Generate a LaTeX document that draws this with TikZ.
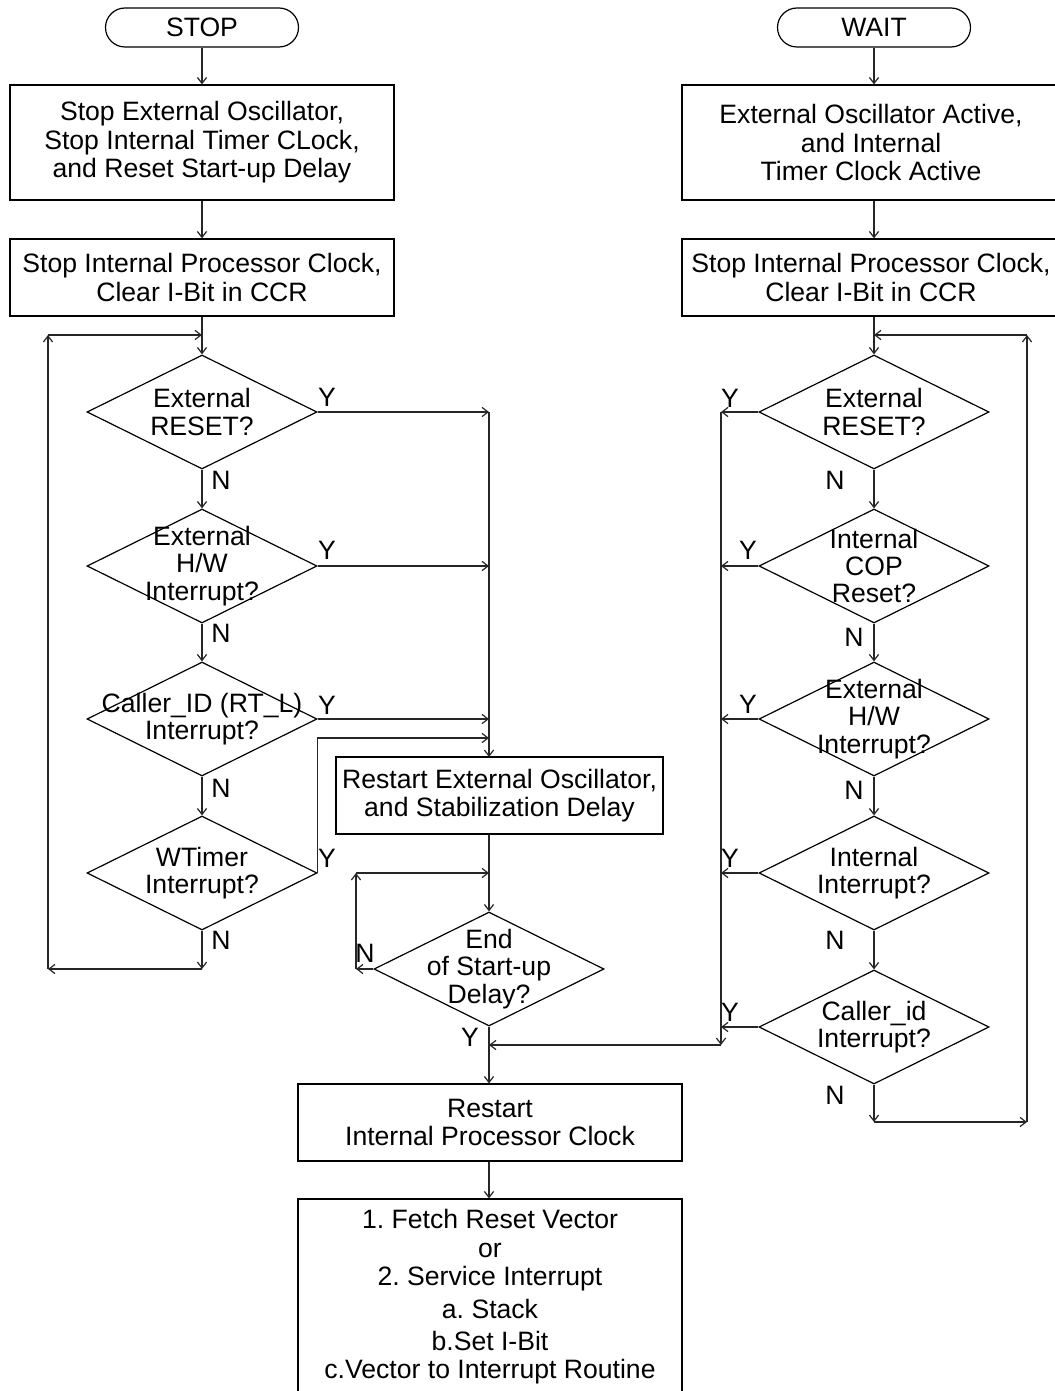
\documentclass[tikz,border=0pt]{standalone}
\usepackage{fontspec}
\setmainfont{Liberation Sans}
\usetikzlibrary{shapes.geometric, arrows.meta, positioning}
\frenchspacing
\newcommand{\flowfont}{\fontsize{13.3pt}{14.2pt}\selectfont}
\tikzset{
    flowline/.style={line width=0.6pt, draw=black!85},
    flowarrow/.style={flowline, -{Straight Barb[length=3pt,width=4.6pt]}},
    termnode/.style={rectangle, draw, line width=0.6pt, rounded corners=9.75pt, minimum width=96.5pt, minimum height=19.5pt, inner sep=0pt},
    procbox/.style={rectangle, draw, line width=0.6pt, align=center, inner sep=0pt},
    decision/.style={diamond, draw, line width=0.6pt, minimum width=115pt, minimum height=57pt, inner sep=0pt},
    qtext/.style={align=center, inner sep=0pt, font=\fontsize{13.3pt}{13.6pt}\selectfont},
    yesno/.style={inner sep=0pt}
}

\begin{document}
\begin{tikzpicture}[x=0.5pt, y=-0.5pt, every node/.style={font=\flowfont}]
    \useasboundingbox (0,0) rectangle (1054,1391);

    % STOP branch
    \node[termnode] (stop) at (202,27.5) {STOP};
    \node[procbox, minimum width=192pt, minimum height=57.5pt] (sbox1) at (202,142.5)
        {Stop External Oscillator,\\Stop Internal Timer CLock,\\and Reset Start-up Delay};
    \node[procbox, minimum width=192pt, minimum height=38.5pt] (sbox2) at (202,277.5)
        {Stop Internal Processor Clock,\\Clear I-Bit in CCR};
    \node[decision, label={[qtext, name=sd1t]center:{External\\RESET?}}] (sd1) at (202,412) {};
    \node[decision, label={[qtext, name=sd2t]center:{External\\H/W\\Interrupt?}}] (sd2) at (202,566) {};
    \node[decision, label={[qtext, name=sd3t]center:{Caller\_ID (RT\_L)\\Interrupt?}}] (sd3) at (202,719) {};
    \node[decision, label={[qtext, name=sd4t]center:{WTimer\\Interrupt?}}] (sd4) at (202,873) {};

    % WAIT branch
    \node[termnode] (wait) at (874,27.5) {WAIT};
    \node[procbox, minimum width=189pt, minimum height=57.5pt] (wbox1) at (871,142.5)
        {External Oscillator Active,\\and Internal\\Timer Clock Active};
    \node[procbox, minimum width=189pt, minimum height=38.5pt] (wbox2) at (871,277.5)
        {Stop Internal Processor Clock,\\Clear I-Bit in CCR};
    \node[decision, label={[qtext, name=wd1t]center:{External\\RESET?}}] (wd1) at (874,412) {};
    \node[decision, label={[qtext, name=wd2t]center:{Internal\\COP\\Reset?}}] (wd2) at (874,566) {};
    \node[decision, label={[qtext, name=wd3t]center:{External\\H/W\\Interrupt?}}] (wd3) at (874,719) {};
    \node[decision, label={[qtext, name=wd4t]center:{Internal\\Interrupt?}}] (wd4) at (874,873) {};
    \node[decision, label={[qtext, name=wd5t]center:{Caller\_id\\Interrupt?}}] (wd5) at (874,1027) {};

    % restart part
    \node[procbox, minimum width=163.5pt, minimum height=38.5pt] (osc) at (499.5,795.5)
        {Restart External Oscillator,\\and Stabilization Delay};
    \node[decision, label={[qtext, name=enddt]center:{End\\of Start-up\\Delay?}}] (endd) at (489,969) {};
    \node[procbox, minimum width=192pt, minimum height=38.5pt] (rclk) at (490,1122.5)
        {Restart\\Internal Processor Clock};
    \node[procbox, minimum width=192pt, minimum height=98pt] (vec) at (490,1297)
        {1. Fetch Reset Vector\\or\\2. Service Interrupt\\[2pt]a. Stack\\[2pt]b.Set I-Bit\\c.Vector to Interrupt Routine};

    % corner points
    \coordinate (sloopA) at (202,969);
    \coordinate (sloopB) at (48,969);
    \coordinate (sloopC) at (48,335);
    \coordinate (sloopD) at (202,335);
    \coordinate (trunkin) at (489,757);
    \coordinate (wtin) at (489,738);
    \coordinate (eloopA) at (356,969);
    \coordinate (eloopB) at (356,873);
    \coordinate (eloopC) at (489,873);
    \coordinate (wtr) at (721,1045);
    \coordinate (wloopA) at (874,1122);
    \coordinate (wloopB) at (1027,1122);
    \coordinate (wloopC) at (1027,335);
    \coordinate (wloopD) at (874,335);

    % STOP flow
    \draw[flowarrow] (stop) -- (sbox1);
    \draw[flowarrow] (sbox1) -- (sbox2);
    \draw[flowarrow] (sbox2) -- (sd1);
    \draw[flowarrow] (sd1) -- (sd2);
    \draw[flowarrow] (sd2) -- (sd3);
    \draw[flowarrow] (sd3) -- (sd4);
    \draw[flowarrow] (sd4) -- (sloopA);
    \draw[flowarrow] (sloopA) -- (sloopB);
    \draw[flowarrow] (sloopB) -- (sloopC);
    \draw[flowarrow] (sloopC) -- (sloopD);
    \draw[flowarrow] (sd1.east) -- (sd1.east -| trunkin);
    \draw[flowarrow] (sd2.east) -- (sd2.east -| trunkin);
    \draw[flowarrow] (sd3.east) -- (sd3.east -| trunkin);
    \draw[flowarrow] (sd4.east) |- (wtin);
    \draw[flowarrow] (sd1.east -| trunkin) -- (trunkin);

    % restart flow
    \draw[flowarrow] (osc.south -| endd) -- (endd);
    \draw[flowarrow] (endd) -- (eloopA);
    \draw[flowarrow] (eloopA) -- (eloopB);
    \draw[flowarrow] (eloopB) -- (eloopC);
    \draw[flowarrow] (endd) -- (endd |- rclk.north);
    \draw[flowarrow] (rclk.south -| endd) -- (endd |- vec.north);

    % WAIT flow
    \draw[flowarrow] (wait) -- (wait |- wbox1.north);
    \draw[flowarrow] (wait |- wbox1.south) -- (wait |- wbox2.north);
    \draw[flowarrow] (wait |- wbox2.south) -- (wd1);
    \draw[flowarrow] (wd1) -- (wd2);
    \draw[flowarrow] (wd2) -- (wd3);
    \draw[flowarrow] (wd3) -- (wd4);
    \draw[flowarrow] (wd4) -- (wd5);
    \draw[flowarrow] (wd5) -- (wloopA);
    \draw[flowarrow] (wloopA) -- (wloopB);
    \draw[flowarrow] (wloopB) -- (wloopC);
    \draw[flowarrow] (wloopC) -- (wloopD);
    \draw[flowarrow] (wd1.west) -- (wd1.west -| wtr);
    \draw[flowarrow] (wd2.west) -- (wd2.west -| wtr);
    \draw[flowarrow] (wd3.west) -- (wd3.west -| wtr);
    \draw[flowarrow] (wd4.west) -- (wd4.west -| wtr);
    \draw[flowarrow] (wd5.west) -- (wd5.west -| wtr);
    \draw[flowarrow] (wd1.west -| wtr) -- (wtr);
    \draw[flowarrow] (wtr) -- (wtr -| endd);

    % Y / N labels
    \node[yesno] (sy1) at (327,397) {Y};
    \node[yesno] (sy2) at (327,550) {Y};
    \node[yesno] (sy3) at (327,705) {Y};
    \node[yesno] (sy4) at (327,858) {Y};
    \node[yesno] (sn1) at (221,480) {N};
    \node[yesno] (sn2) at (221,633) {N};
    \node[yesno] (sn3) at (221,788) {N};
    \node[yesno] (sn4) at (221,940) {N};
    \node[yesno] (en) at (365,953) {N};
    \node[yesno] (ey) at (470,1037) {Y};
    \node[yesno] (wy1) at (730,398) {Y};
    \node[yesno] (wy2) at (748,550) {Y};
    \node[yesno] (wy3) at (748,704) {Y};
    \node[yesno] (wy4) at (730,858) {Y};
    \node[yesno] (wy5) at (730,1012) {Y};
    \node[yesno] (wn1) at (835,480) {N};
    \node[yesno] (wn2) at (854,637) {N};
    \node[yesno] (wn3) at (854,790) {N};
    \node[yesno] (wn4) at (835,940) {N};
    \node[yesno] (wn5) at (835,1095) {N};
\end{tikzpicture}
\end{document}
